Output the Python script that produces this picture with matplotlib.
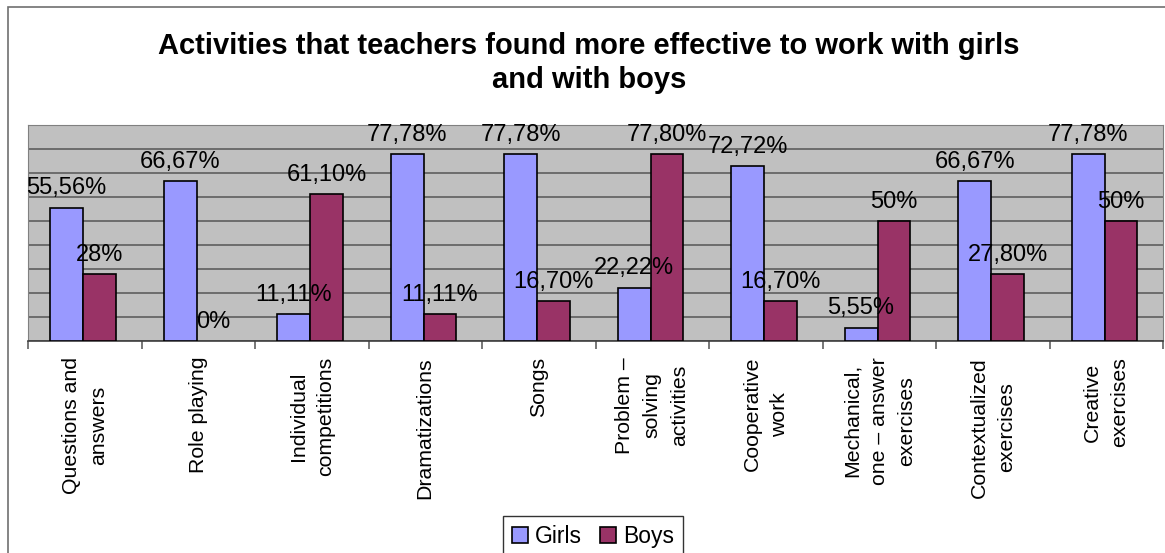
import matplotlib.pyplot as plt
import numpy as np
from matplotlib.patches import Rectangle

plt.rcParams['font.family'] = ['Liberation Sans', 'DejaVu Sans']

# activities on the category axis
categories = ["Questions and\nanswers", "Role playing", "Individual\ncompetitions",
	"Dramatizations", "Songs", "Problem –\nsolving\nactivities", "Cooperative\nwork",
	"Mechanical,\none – answer\nexercises", "Contextualized\nexercises", "Creative\nexercises"]

# percentages as written on the chart
girls_labels = ["55,56%", "66,67%", "11,11%", "77,78%", "77,78%", "22,22%", "72,72%", "5,55%", "66,67%", "77,78%"]
boys_labels = ["28%", "0%", "61,10%", "11,11%", "16,70%", "77,80%", "16,70%", "50%", "27,80%", "50%"]

def to_value(s):
	return float(s.rstrip('%').replace(',', '.'))

girls = [to_value(s) for s in girls_labels]
boys = [to_value(s) for s in boys_labels]

W, H = 1165, 553
fig = plt.figure(figsize=(W / 100, H / 100), dpi=100)
fig.patch.set_facecolor('white')

# outer chart border
fig.patches.append(Rectangle((8 / W, -0.1), 1.2, 1.1 - 7 / H, transform=fig.transFigure,
	fill=False, edgecolor='#707070', linewidth=1.2))

ax = fig.add_axes([28 / W, (H - 341) / H, (1163 - 28) / W, (341 - 125) / H])
ax.set_facecolor('#C0C0C0')
ax.set_xlim(0, 10)
ax.set_ylim(0, 90)

x = np.arange(len(categories))
bw = 0.29
lw_g = [1.2 if v > 0 else 0 for v in girls]
lw_b = [1.2 if v > 0 else 0 for v in boys]
ax.bar(x + 0.195, girls, bw, align='edge', color='#9999FF', edgecolor='black', linewidth=lw_g, zorder=3, label='Girls')
ax.bar(x + 0.195 + bw, boys, bw, align='edge', color='#993366', edgecolor='black', linewidth=lw_b, zorder=3, label='Boys')

# value labels above each bar
for i in range(len(categories)):
	ax.annotate(girls_labels[i], (i + 0.195 + bw / 2, girls[i]), xytext=(0, 9.5), textcoords='offset points',
		ha='center', va='baseline', fontsize=17, zorder=5, annotation_clip=False)
	ax.annotate(boys_labels[i], (i + 0.195 + 1.5 * bw, boys[i]), xytext=(0, 9.5), textcoords='offset points',
		ha='center', va='baseline', fontsize=17, zorder=5, annotation_clip=False)

ax.set_yticks(np.arange(0, 91, 10))
ax.tick_params(axis='y', length=0, labelleft=False)
ax.yaxis.grid(True, color='#555555', linewidth=1.1, zorder=1)
ax.set_axisbelow(True)

# tick marks on category boundaries, names in the middle
ax.set_xticks(np.arange(0, 11))
ax.set_xticklabels([])
ax.tick_params(axis='x', which='major', length=6, color='#606060', width=1.2, direction='out')
ax.set_xticks(x + 0.5, minor=True)
ax.set_xticklabels(categories, minor=True, rotation=90, ha='center', va='top',
	multialignment='center', fontsize=15.3, linespacing=1.55)
ax.tick_params(axis='x', which='minor', length=0, pad=11.5)

for side in ['top', 'left', 'right']:
	ax.spines[side].set_color('#808080')
ax.spines['bottom'].set_color('#404040')
ax.spines['bottom'].set_linewidth(1.2)

fig.text(589 / W, 1 - 32 / H, "Activities that teachers found more effective to work with girls\nand with boys",
	ha='center', va='top', fontsize=21, fontweight='bold', linespacing=1.28)

leg = fig.legend(loc='upper center', bbox_to_anchor=(593 / W, 1 - 516 / H), ncol=2, fontsize=16.5,
	frameon=True, fancybox=False, edgecolor='black', borderaxespad=0, handlelength=0.7,
	handleheight=0.7, handletextpad=0.3, columnspacing=0.8, borderpad=0.4)
leg.get_frame().set_linewidth(1.0)
for h in leg.legend_handles:
	h.set_edgecolor('black')

fig.savefig('out.png', dpi=100)
